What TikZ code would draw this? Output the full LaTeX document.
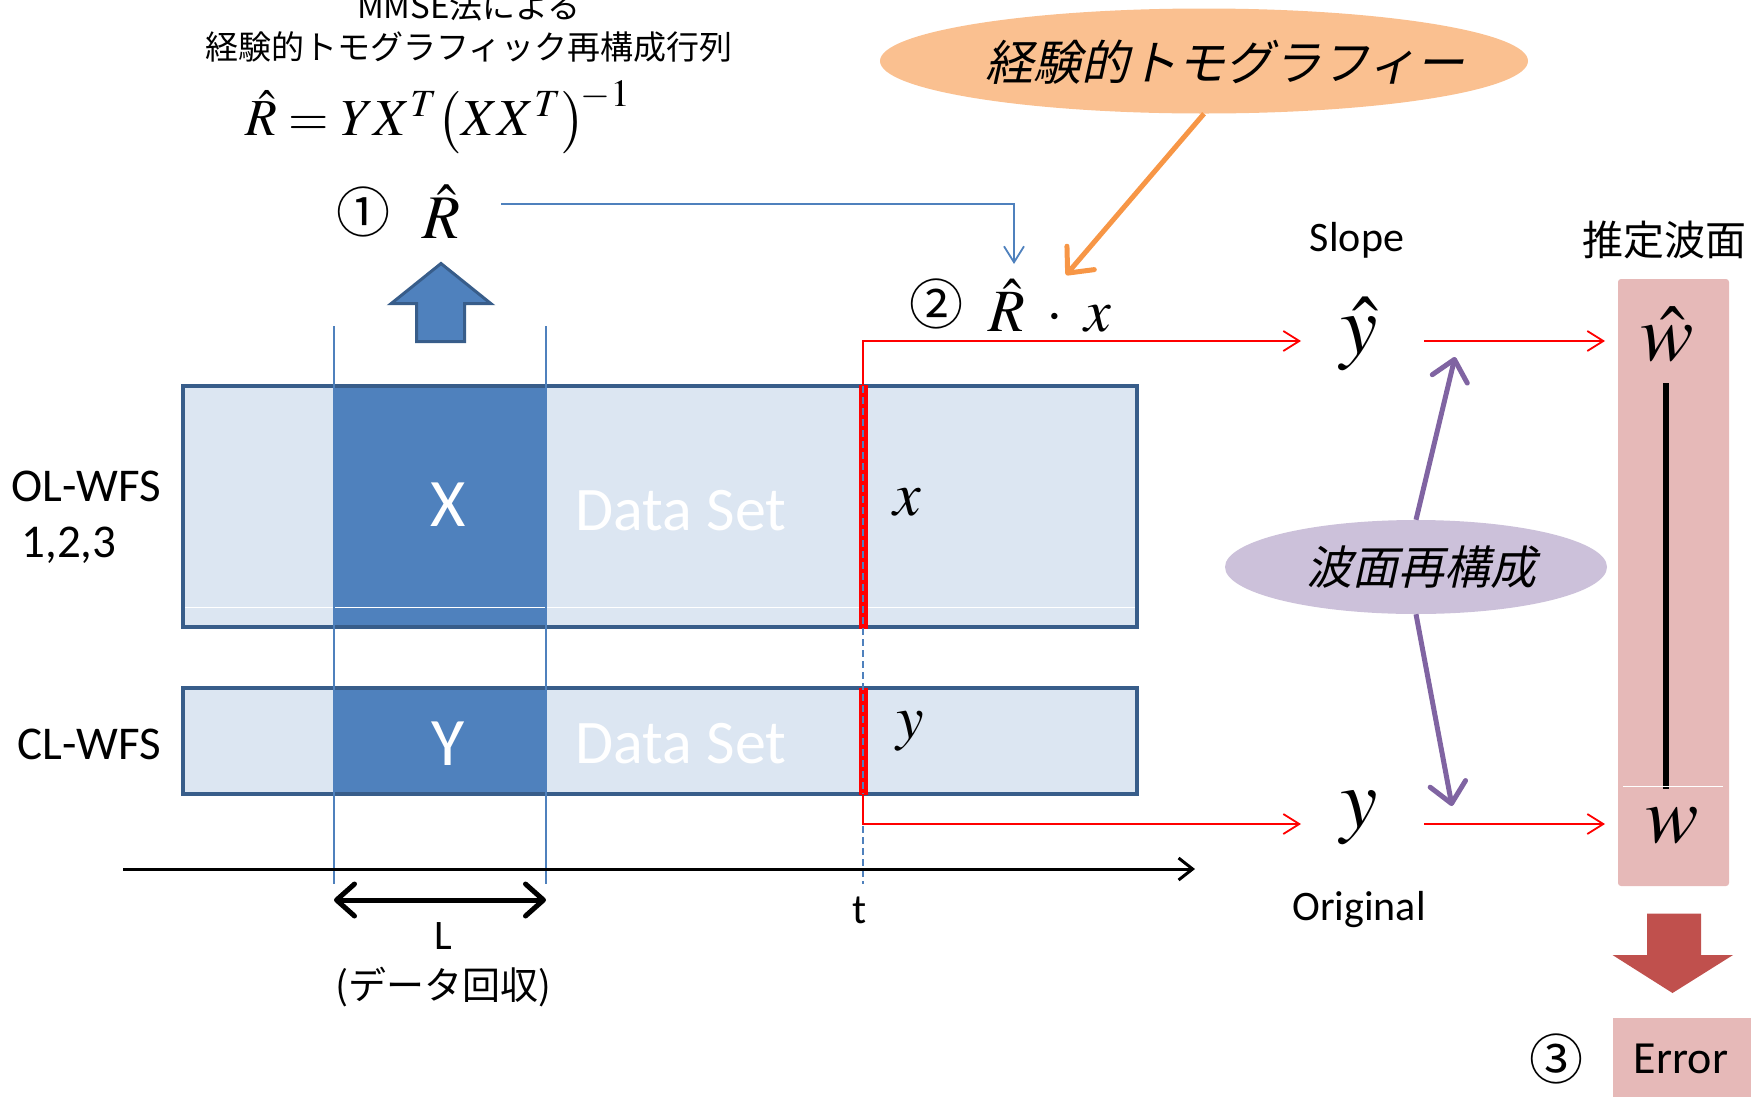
\documentclass[tikz,border=0pt]{standalone}
\usepackage{mathptmx}
\usepackage[no-math]{fontspec}
\setmainfont{Carlito}
\newfontfamily\jp{Noto Sans CJK JP}
\newfontfamily\jpit[FakeSlant=0.22]{Noto Sans CJK JP}
\usetikzlibrary{arrows.meta,shapes.geometric}
\definecolor{lightbox}{HTML}{DCE6F2}
\definecolor{boxborder}{HTML}{385D8A}
\definecolor{blockblue}{HTML}{4F81BD}
\definecolor{orangefill}{HTML}{FAC090}
\definecolor{orangeline}{HTML}{F79646}
\definecolor{purplefill}{HTML}{CCC1DA}
\definecolor{purpleline}{HTML}{8064A2}
\definecolor{pinkfill}{HTML}{E6B9B8}
\definecolor{darkred}{HTML}{C0504D}
\begin{document}
\begin{tikzpicture}[x=1pt,y=-1pt,
  txt/.style={inner sep=0pt,font=\fontsize{#1}{#1}\selectfont},
  jtxt/.style={inner sep=0pt,font=\jp\fontsize{#1}{#1}\selectfont},
  jitxt/.style={inner sep=0pt,font=\jpit\fontsize{#1}{#1}\selectfont},
  area/.style={inner sep=0pt,outer sep=0pt,anchor=north west},
  redthin/.style={red,line width=1.8pt,-{Straight Barb[length=16pt,width=20pt]}},
  bluethin/.style={blockblue,line width=1.8pt,-{Straight Barb[length=16pt,width=20pt]}},
  fatarrow/.style={line width=5pt,-{Straight Barb[length=20pt,width=36pt,round]}},
]
\useasboundingbox (0,0) rectangle (1751,1096);

% data boxes
\node[area,fill=lightbox,minimum width=954pt,minimum height=241pt] (ol) at (183,386) {};
\node[area,fill=lightbox,minimum width=954pt,minimum height=106pt] (cl) at (183,688) {};
\node[area,fill=blockblue,minimum width=212pt,minimum height=241pt] (Xb) at (334,386) {};
\node[area,fill=blockblue,minimum width=212pt,minimum height=106pt] (Yb) at (334,688) {};
\draw[white,line width=0.8pt] (183,607.5) -- (1137,607.5);
\draw[boxborder,line width=3.5pt] (ol.north west) rectangle (ol.south east);
\draw[boxborder,line width=3.5pt] (cl.north west) rectangle (cl.south east);

% red time slice
\coordinate (tx1) at (863,386);
\coordinate (ty2) at (863,794);
\fill[red] (858.5,385) rectangle (867.5,629);
\fill[red] (858.5,688) rectangle (867.5,795);
\coordinate (tbot) at (863,884);
\draw[blockblue,line width=1.8pt,dash pattern=on 7pt off 4pt] (tx1) -- (tbot);

% window lines
\draw[blockblue,line width=2.2pt] (334,326) -- (334,884);
\draw[blockblue,line width=2.2pt] (546,326) -- (546,884);

% time axis
\coordinate (ax0) at (123,869);
\coordinate (ax1) at (1195,869);
\draw[line width=3pt,-{Straight Barb[length=14pt,width=22pt]}] (ax0) -- (ax1);
\coordinate (L0) at (334,900);
\coordinate (L1) at (546,900);
\draw[line width=5pt,{Straight Barb[length=18pt,width=32pt,round]}-{Straight Barb[length=18pt,width=32pt,round]}] (L0) -- (L1);

% labels left
\node[txt=47] (olw) at (86,486) {OL-WFS};
\node[txt=47] (olnum) at (69,545) {1,2,3};
\node[txt=47] (clw) at (89,744) {CL-WFS};
\node[txt=68,white] (Xt) at (448,505) {X};
\node[txt=68,white] (Yt) at (448,744) {Y};
\node[txt=62,white] (ds1) at (681,511) {Data Set};
\node[txt=62,white] (ds2) at (681,744) {Data Set};
\node[txt=62] (xl) at (907,502) {$x$};
\node[txt=62] (yl) at (910,731) {$y$};
\node[txt=42] (tl) at (860,910) {t};
\node[txt=42] (Ll) at (443,936) {L};
\node[jtxt=38] (dc) at (443,987) {(データ回収)};

% up block arrow
\filldraw[fill=blockblue,draw=boxborder,line width=3pt,line join=miter]
  (416.5,341.7) -- (416.5,303.7) -- (391,303.7) -- (441,263.5) -- (491,303.7) -- (464.5,303.7) -- (464.5,341.7) -- cycle;

% top formula
\node[jtxt=33] (mm) at (469,6) {MMSE法による};
\node[jtxt=33] (kt) at (469,47) {経験的トモグラフィック再構成行列};
\node[txt=52] (fm) at (438,117) {$\hat{R}=YX^{T}\!\left(XX^{T}\right)^{\!-1}$};
\node[jtxt=54] (c1) at (363,212) {①};
\node[txt=62] (R1) at (441,212) {$\hat{R}$};
\node[jtxt=54] (c2) at (936,304) {②};
\node[txt=60] (Rx) at (1050,306) {$\hat{R}\;\cdot\;x$};
\coordinate (b0) at (501,204);
\coordinate (b1) at (1014,264);
\draw[bluethin] (b0) -| (b1);

% orange ellipse
\node[ellipse,fill=orangefill,minimum width=648pt,minimum height=105pt,inner sep=0pt] (oe) at (1204,61) {};
\node[jitxt=48] (oet) at (1225,62) {経験的トモグラフィー};
\coordinate (oa) at (1066,275);
\draw[orangeline,fatarrow] (oe.south) -- (oa);

% red connectors
\coordinate (r1) at (863,341);
\coordinate (r2) at (1301,341);
\coordinate (r3) at (863,824);
\coordinate (r4) at (1301,824);
\draw[redthin] (tx1) -- (r1) -- (r2);
\draw[redthin] (ty2) -- (r3) -- (r4);
\coordinate (r5) at (1424,341);
\coordinate (r6) at (1605,341);
\coordinate (r7) at (1424,824);
\coordinate (r8) at (1605,824);
\draw[redthin] (r5) -- (r6);
\draw[redthin] (r7) -- (r8);

% slope / original
\node[txt=42] (sl) at (1357,240) {Slope};
\node[txt=84] (yh) at (1359,334) {$\hat{y}$};
\node[txt=84] (yo) at (1359,818) {$y$};
\node[txt=42] (orig) at (1359,910) {Original};

% estimated wavefront
\node[jtxt=41] (est) at (1664,240) {推定波面};
\node[area,fill=pinkfill,rounded corners=3pt,minimum width=111pt,minimum height=607pt] (pink) at (1618,279) {};
\draw[line width=6pt] (1666,383) -- (1666,789);
\draw[white,line width=0.8pt] (1623,786) -- (1723,786);
\node[txt=80] (wh) at (1667,334) {$\hat{w}$};
\node[txt=80] (wo) at (1672,826) {$w$};

% purple ellipse
\node[ellipse,fill=purplefill,minimum width=382pt,minimum height=94pt,inner sep=0pt] (pe) at (1416,567) {};
\node[jitxt=46] (pet) at (1421,567) {波面再構成};
\coordinate (pa1) at (1455,357);
\coordinate (pa2) at (1452,806);
\draw[purpleline,fatarrow] (pe.north) -- (pa1);
\draw[purpleline,fatarrow] (pe.south) -- (pa2);

% down block arrow and error
\fill[darkred] (1647,913.5) -- (1701,913.5) -- (1701,955) -- (1733,955) -- (1672.5,993) -- (1612.5,955) -- (1647,955) -- cycle;
\node[area,fill=pinkfill,minimum width=150pt,minimum height=80pt] (err) at (1612.5,1018) {};
\node[txt=46] (errt) at (1681,1059) {Error};
\node[jtxt=54] (c3) at (1556,1059) {③};
\end{tikzpicture}
\end{document}
